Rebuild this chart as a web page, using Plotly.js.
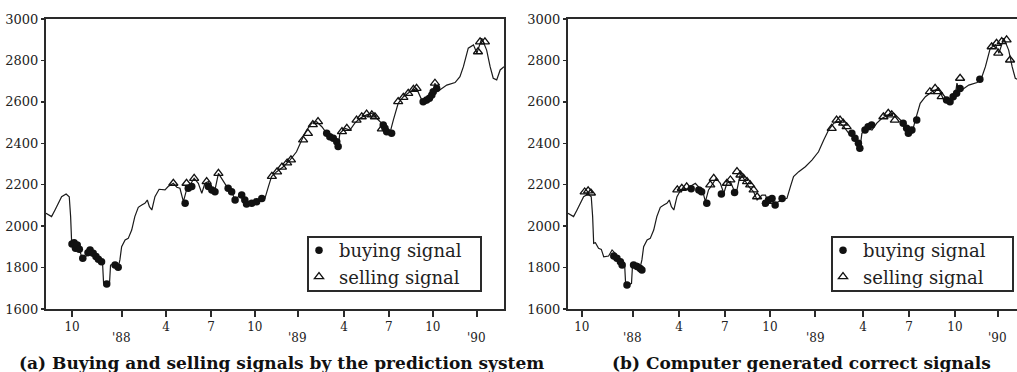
<!DOCTYPE html>
<html>
<head>
<meta charset="utf-8">
<script src="https://cdn.plot.ly/plotly-3.0.1.min.js"></script>
<style>html,body{margin:0;padding:0;background:#fff;}#chart{width:1017px;height:372px;}</style>
</head>
<body>
<div id="chart"></div>
<script>
// Index level (weekly sample index from start of the window)
const priceX = [0, 1.6, 2.6, 3.5, 4.5, 5.8, 6.7, 7.1, 7.4, 7.9, 8.8, 9.6, 10.3, 11.7, 12.7, 13.6, 14.4, 15.1, 16.3, 16.6, 17.5, 18.3, 18.6, 19.9, 20.8, 21.3, 21.8, 22.8, 23.7, 24.7, 25.6, 26.6, 27.6, 28.5, 29.2, 29.8, 30.5, 31.4, 32.6, 34.3, 35.2, 36.7, 37.7, 38.6, 39.6, 40.5, 41.5, 42.7, 43.9, 44.9, 45.8, 46.8, 47.8, 48.7, 49.7, 50.6, 52.1, 53.5, 54.5, 55.9, 56.9, 57.8, 59.7, 61.7, 63.1, 64.1, 65.0, 66.5, 68.4, 70.3, 72.2, 73.7, 75.1, 76.6, 78.0, 79.5, 80.9, 82.3, 83.8, 84.2, 84.7, 86.2, 87.6, 89.0, 90.5, 92.4, 93.9, 95.3, 96.7, 97.7, 99.1, 100.1, 101.5, 103.0, 104.9, 106.8, 108.3, 109.7, 111.6, 112.1, 112.7, 113.5, 115.5, 117.9, 119.3, 120.3, 121.7, 123.2, 124.2, 125.6, 127.0, 128.0, 128.9, 129.9, 130.9, 132];
const priceY = [2062, 2046, 2078, 2110, 2142, 2155, 2142, 2046, 1917, 1920, 1893, 1888, 1852, 1856, 1885, 1869, 1853, 1840, 1821, 1724, 1716, 1724, 1812, 1821, 1801, 1837, 1901, 1933, 1941, 1981, 2046, 2091, 2102, 2110, 2126, 2094, 2078, 2142, 2178, 2175, 2191, 2207, 2188, 2183, 2118, 2175, 2199, 2231, 2207, 2159, 2207, 2215, 2175, 2175, 2255, 2231, 2191, 2166, 2126, 2150, 2150, 2110, 2110, 2126, 2134, 2191, 2239, 2263, 2287, 2319, 2359, 2416, 2464, 2497, 2504, 2480, 2448, 2432, 2400, 2384, 2448, 2472, 2464, 2497, 2521, 2537, 2545, 2521, 2497, 2464, 2448, 2512, 2593, 2625, 2649, 2665, 2609, 2593, 2633, 2690, 2655, 2657, 2681, 2693, 2722, 2770, 2859, 2875, 2835, 2907, 2850, 2770, 2714, 2706, 2754, 2770];

// (a) signals from the prediction system
const buyAX = [7.5, 8.1, 8.5, 9.0, 9.6, 10.6, 12.1, 12.7, 13.6, 14.4, 15.1, 16.0, 17.5, 19.9, 20.8, 40.1, 41.0, 42.0, 46.8, 47.8, 48.7, 52.5, 53.5, 54.5, 56.4, 57.3, 57.8, 59.3, 60.7, 62.2, 80.9, 81.8, 82.8, 83.8, 84.2, 97.2, 97.7, 98.2, 99.6, 108.7, 109.7, 110.5, 111.2, 111.6, 112.6];
const buyAY = [1914, 1920, 1893, 1909, 1888, 1845, 1872, 1885, 1869, 1853, 1840, 1828, 1721, 1812, 1801, 2110, 2183, 2191, 2191, 2175, 2166, 2183, 2166, 2126, 2150, 2126, 2107, 2110, 2118, 2134, 2448, 2432, 2424, 2408, 2384, 2488, 2472, 2456, 2448, 2601, 2609, 2617, 2633, 2649, 2665];
const sellAX = [36.7, 40.5, 42.7, 46.3, 49.7, 65.1, 66.6, 68.0, 69.5, 70.6, 74.1, 75.5, 76.9, 78.4, 85.3, 86.7, 89.5, 91.0, 92.4, 93.9, 94.8, 96.8, 101.5, 103.0, 104.4, 105.9, 106.8, 112.1, 124.5, 125.1, 126.5];
const sellAY = [2207, 2207, 2231, 2215, 2255, 2240, 2262, 2285, 2305, 2320, 2416, 2448, 2490, 2505, 2456, 2472, 2512, 2528, 2541, 2537, 2528, 2470, 2601, 2622, 2641, 2660, 2665, 2690, 2842, 2890, 2890];

// (b) computer generated correct signals
const buyBX = [13.2, 14.1, 15.1, 15.6, 17.0, 18.9, 19.9, 20.8, 21.3, 35.5, 37.7, 38.5, 40.0, 44.2, 48.0, 56.9, 57.8, 58.8, 59.7, 61.7, 81.8, 82.7, 83.7, 84.1, 85.6, 86.5, 87.5, 96.6, 97.6, 98.1, 99.1, 100.5, 109.1, 110.1, 111.0, 112.0, 113.0, 118.7];
const buyBY = [1856, 1845, 1828, 1812, 1716, 1812, 1805, 1796, 1788, 2180, 2175, 2166, 2110, 2155, 2162, 2110, 2126, 2134, 2102, 2134, 2448, 2424, 2400, 2376, 2464, 2480, 2488, 2497, 2472, 2448, 2464, 2512, 2609, 2601, 2625, 2641, 2665, 2709];
const sellBX = [4.8, 5.8, 6.6, 31.5, 32.8, 34.2, 41.0, 42.0, 45.8, 46.8, 48.7, 49.7, 50.6, 51.6, 52.5, 53.5, 54.5, 76.0, 77.4, 78.4, 79.3, 80.3, 90.9, 92.3, 93.3, 94.2, 104.3, 105.8, 106.7, 107.7, 113.0, 122.1, 123.5, 124.0, 125.0, 126.4, 127.4];
const sellBY = [2165, 2170, 2160, 2175, 2183, 2190, 2199, 2231, 2207, 2223, 2263, 2247, 2231, 2215, 2199, 2175, 2142, 2472, 2512, 2512, 2497, 2480, 2528, 2545, 2537, 2512, 2649, 2665, 2649, 2625, 2714, 2866, 2883, 2835, 2891, 2899, 2802];

// axis ticks
const yTickVals = [1600, 1800, 2000, 2200, 2400, 2600, 2800, 3000];
const tickPosA = [7.5, 21.9, 34.6, 47.6, 60.2, 72.6, 85.9, 98.8, 111.5, 124.2];
const tickPosB = [4.0, 18.7, 32.0, 45.2, 58.2, 71.2, 85.0, 98.3, 111.5, 123.9];
const monthLabels = ['10', '', '4', '7', '10', '', '4', '7', '10', ''];
const yearLabels = ["'88", "'89", "'90"];
const yearIdx = [1, 5, 9];

const W = 1017, H = 372;
const py = v => 1 - v / H;
const LC = '#2a2a2a';

const lineStyle = {color: '#1a1a1a', width: 1.2};
const buyMarker = {symbol: 'circle', size: 7.5, color: '#111'};
const sellMarker = {symbol: 'triangle-up-open', size: 8, color: '#111', line: {color: '#111', width: 1.3}};

const traces = [
  {x: priceX, y: priceY, mode: 'lines', line: lineStyle, xaxis: 'x', yaxis: 'y', showlegend: false, hoverinfo: 'skip'},
  {x: buyAX, y: buyAY, mode: 'markers', marker: buyMarker, name: 'buying signal', xaxis: 'x', yaxis: 'y', legend: 'legend'},
  {x: sellAX, y: sellAY, mode: 'markers', marker: sellMarker, name: 'selling signal', xaxis: 'x', yaxis: 'y', legend: 'legend'},
  {x: priceX, y: priceY, mode: 'lines', line: lineStyle, xaxis: 'x2', yaxis: 'y2', showlegend: false, hoverinfo: 'skip'},
  {x: buyBX, y: buyBY, mode: 'markers', marker: buyMarker, name: 'buying signal', xaxis: 'x2', yaxis: 'y2', legend: 'legend2'},
  {x: sellBX, y: sellBY, mode: 'markers', marker: sellMarker, name: 'selling signal', xaxis: 'x2', yaxis: 'y2', legend: 'legend2'}
];

const xCommon = {
  ticks: 'outside', ticklen: 6, tickwidth: 1.5, tickcolor: LC,
  showline: true, linecolor: LC, linewidth: 2, mirror: true,
  showgrid: false, zeroline: false, tickmode: 'array', ticktext: monthLabels,
  tickfont: {family: 'DejaVu Serif', size: 12, color: '#222'}
};
const yCommon = {
  range: [1600, 3000], tickmode: 'array', tickvals: yTickVals, ticktext: yTickVals.map(String),
  ticks: 'outside', ticklen: 3, tickwidth: 1.5, tickcolor: LC,
  showline: true, linecolor: LC, linewidth: 2,
  showgrid: false, zeroline: false,
  domain: [py(309), py(19)],
  tickfont: {family: 'DejaVu Serif', size: 13, color: '#222'}
};

const annotations = [];
yearIdx.forEach((ti, k) => {
  annotations.push({xref: 'x', yref: 'paper', x: tickPosA[ti], y: py(338), text: yearLabels[k], showarrow: false,
    xanchor: 'center', yanchor: 'middle', font: {family: 'DejaVu Serif', size: 12, color: '#222'}});
  annotations.push({xref: 'x2', yref: 'paper', x: tickPosB[ti], y: py(338), text: yearLabels[k], showarrow: false,
    xanchor: 'center', yanchor: 'middle', font: {family: 'DejaVu Serif', size: 12, color: '#222'}});
});
annotations.push({xref: 'paper', yref: 'paper', x: 281 / W, y: py(363), text: '<b>(a) Buying and selling signals by the prediction system</b>',
  showarrow: false, xanchor: 'center', yanchor: 'middle', font: {family: 'DejaVu Serif', size: 17, color: '#111'}});
annotations.push({xref: 'paper', yref: 'paper', x: 801 / W, y: py(363), text: '<b>(b) Computer generated correct signals</b>',
  showarrow: false, xanchor: 'center', yanchor: 'middle', font: {family: 'DejaVu Serif', size: 17, color: '#111'}});

// legend frames
const shapes = [
  {type: 'rect', xref: 'paper', yref: 'paper', x0: 308 / W, x1: 481 / W, y0: py(291), y1: py(237),
    fillcolor: '#fff', line: {color: LC, width: 2}, layer: 'above'},
  {type: 'rect', xref: 'paper', yref: 'paper', x0: 832 / W, x1: 1013 / W, y0: py(291), y1: py(237),
    fillcolor: '#fff', line: {color: LC, width: 2}, layer: 'above'}
];

const legendCommon = {
  xanchor: 'left', yanchor: 'top', bgcolor: 'rgba(0,0,0,0)', borderwidth: 0,
  font: {family: 'DejaVu Serif', size: 18, color: '#222'}, tracegroupgap: 0
};

const layout = {
  width: W, height: H,
  margin: {l: 0, r: 0, t: 0, b: 0},
  paper_bgcolor: '#fff', plot_bgcolor: '#fff',
  showlegend: true,
  xaxis: Object.assign({}, xCommon, {domain: [46 / W, 504 / W], range: [0, 132], tickvals: tickPosA, anchor: 'y'}),
  yaxis: Object.assign({}, yCommon, {anchor: 'x', mirror: true}),
  xaxis2: Object.assign({}, xCommon, {domain: [568 / W, 1], range: [0, 129.4], tickvals: tickPosB, anchor: 'y2'}),
  yaxis2: Object.assign({}, yCommon, {anchor: 'x2', mirror: false}),
  legend: Object.assign({}, legendCommon, {x: 299 / W, y: py(232)}),
  legend2: Object.assign({}, legendCommon, {x: 823 / W, y: py(232)}),
  shapes: shapes,
  annotations: annotations
};

Plotly.newPlot('chart', traces, layout, {staticPlot: true, displayModeBar: false});
</script>
</body>
</html>
